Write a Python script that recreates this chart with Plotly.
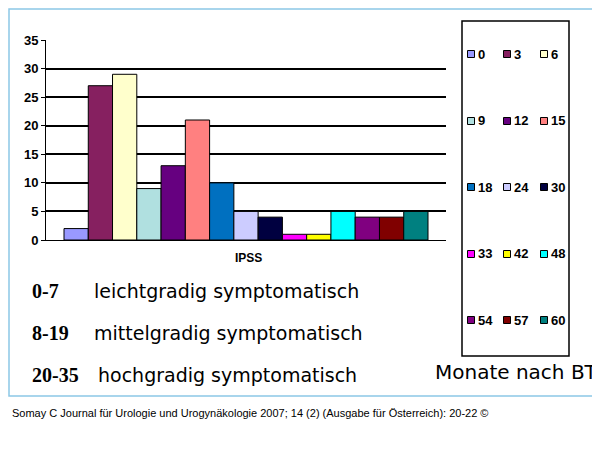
import plotly.graph_objects as go

months = ["0","3","6","9","12","15","18","24","30","33","42","48","54","57","60"]
values = [2,27,29,9,13,21,10,5,4,1,1,5,4,4,5]
colors = ["#9999FF","#862060","#FFFFCC","#B0E0E0","#660080","#FF8080","#0070C0","#CCCCFF",
          "#000040","#FF00FF","#FFFF00","#00FFFF","#800080","#800000","#008080"]
category = ["IPSS"]
W, H = 600, 451

fig = go.Figure()
for m, v, c in zip(months, values, colors):
    fig.add_trace(go.Bar(x=category, y=[v], name=m, marker=dict(color=c, line=dict(color="black", width=1))))

def px(x): return x / W
def py(y): return 1 - y / H

fig.update_layout(
    width=W, height=H, margin=dict(l=0, r=0, t=0, b=0, autoexpand=False),
    paper_bgcolor="white", plot_bgcolor="white", showlegend=False,
    barmode="group", bargap=0.09, bargroupgap=0,
    xaxis=dict(domain=[px(38), px(438)], showticklabels=False, showline=True, linecolor="black", ticks="",
               automargin=False),
    yaxis=dict(domain=[py(232), py(32)], range=[0, 35], dtick=5, showgrid=True, gridcolor="black", gridwidth=1.5,
               showline=True, linecolor="black", ticks="outside", ticklen=4, tickcolor="black", automargin=False,
               tickprefix="<b>", ticksuffix="</b>",
               tickfont=dict(family="Liberation Sans", size=13, color="black"), zeroline=False),
)
shapes = [dict(type="rect", xref="paper", yref="paper", x0=px(1), x1=px(598), y0=py(388), y1=py(1),
               line=dict(color="#8CC8E6", width=1.5)),
          dict(type="rect", xref="paper", yref="paper", x0=px(454), x1=px(561), y0=py(348), y1=py(13),
               line=dict(color="black", width=1.5))]
def A(text, x, y, size, family="Liberation Sans", xanchor="left"):
    return dict(text=text, x=px(x), y=py(y), xref="paper", yref="paper", xanchor=xanchor, yanchor="middle",
                showarrow=False, font=dict(family=family, size=size, color="black"))
ann = [A("<b>IPSS</b>", 240, 250, 12, xanchor="center")]
rows_y = [46, 113, 179, 246, 312]
cols_x = [463, 499, 536]
for i, (m, c) in enumerate(zip(months, colors)):
    r, k = divmod(i, 3)
    x, y = cols_x[k], rows_y[r]
    shapes.append(dict(type="rect", xref="paper", yref="paper", x0=px(x-3.5), x1=px(x+3.5), y0=py(y+3.5), y1=py(y-3.5),
                       fillcolor=c, line=dict(color="black", width=1)))
    ann.append(A("<b>%s</b>" % m, x+5, y, 13))
ranges = ["0-7", "8-19", "20-35"]
descs = ["leichtgradig symptomatisch", "mittelgradig symptomatisch", "hochgradig symptomatisch"]
for j, (rg, d) in enumerate(zip(ranges, descs)):
    y = 283 + 42 * j
    ann.append(A("<b>%s</b>" % rg, 22, y, 20, family="Liberation Serif"))
    ann.append(A(d, 84 if j < 2 else 88, y, 19, family="DejaVu Sans"))
ann.append(A("Monate nach BT", 508, 364, 20, family="DejaVu Sans", xanchor="center"))
ann.append(A("Somay C Journal für Urologie und Urogynäkologie 2007; 14 (2) (Ausgabe für Österreich): 20-22 ©",
             2, 405, 11))
fig.update_layout(shapes=shapes, annotations=ann)
fig.write_html("out.html")
